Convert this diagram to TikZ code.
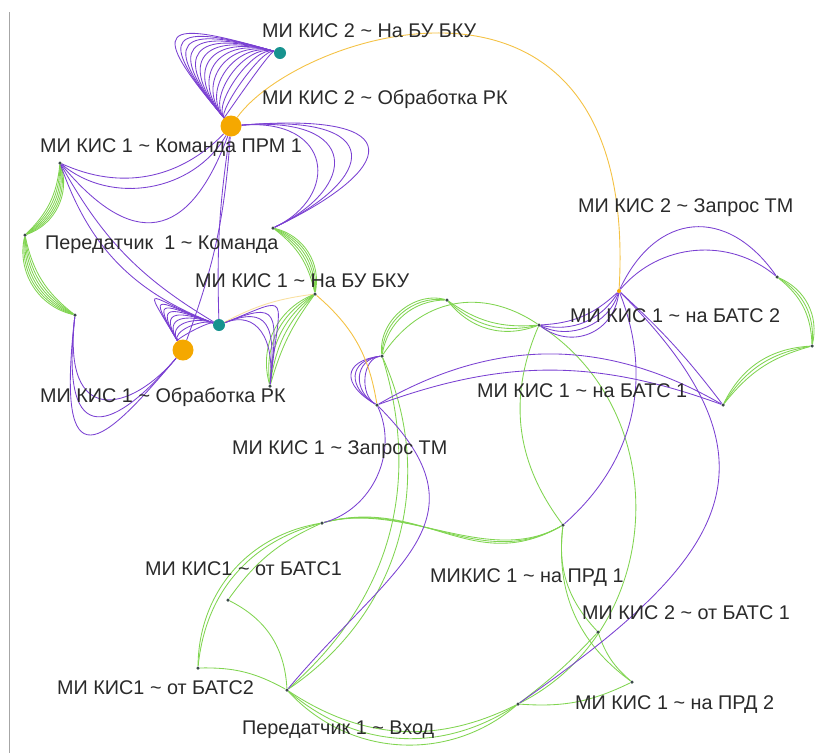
\documentclass[tikz,border=0pt]{standalone}
\usepackage{fontspec}
\setmainfont{Liberation Sans}
\definecolor{pur}{HTML}{7A40D2}
\definecolor{grn}{HTML}{80D450}
\definecolor{orl}{HTML}{F4C244}
\definecolor{orn}{HTML}{F5A800}
\definecolor{tea}{HTML}{17938F}
\definecolor{dotc}{HTML}{3A4A48}
\definecolor{txt}{HTML}{2A2A2A}
\pgfdeclarelayer{edges}
\pgfsetlayers{edges,main}
\begin{document}
\begin{tikzpicture}[x=1pt,y=1pt,
  pe/.style={draw=pur, line width=0.85pt},
  ge/.style={draw=grn, line width=0.85pt},
  oe/.style={draw=orl, line width=0.9pt},
  smalldot/.style={circle, fill=dotc, inner sep=0pt, minimum size=3.5pt},
  tealdot/.style={circle, fill=tea, inner sep=0pt, minimum size=12pt},
  hubdot/.style={circle, fill=orn, inner sep=0pt, minimum size=21pt},
  lbl/.style={anchor=mid west, inner sep=0pt, text=txt, font=\fontsize{19.8}{23}\selectfont}]

\path[use as bounding box] (0,0) rectangle (819,-753);
\draw[gray!70, line width=0.8pt] (9,-12) -- (9,-753);

% vertices
\node[tealdot] (A) at (280,-53) {};
\node[hubdot]  (B) at (231,-126) {};
\node[smalldot] (C) at (60,-163) {};
\node[smalldot] (D) at (25,-235) {};
\node[smalldot] (E) at (273,-228) {};
\node[smalldot] (F) at (75,-315) {};
\node[tealdot] (G) at (219,-325) {};
\node[hubdot]  (H) at (183,-350) {};
\node[smalldot] (I) at (315,-294) {};
\node[smalldot] (J) at (270,-386) {};
\node[smalldot] (K) at (382,-356) {};
\node[smalldot] (L) at (377,-405) {};
\node[smalldot] (M) at (447,-300) {};
\node[smalldot] (N) at (539,-325) {};
\node[circle, fill=orn, inner sep=0pt, minimum size=4pt] (O) at (619,-291) {};
\node[smalldot] (P) at (777,-277) {};
\node[smalldot] (Q) at (812,-346) {};
\node[smalldot] (R) at (723,-405) {};
\node[smalldot] (S) at (563,-525) {};
\node[smalldot] (T) at (598,-632) {};
\node[smalldot] (U) at (632,-682) {};
\node[smalldot] (V) at (518,-704) {};
\node[smalldot] (W) at (287,-690) {};
\node[smalldot] (X) at (228,-600) {};
\node[smalldot] (Y) at (198,-668) {};
\node[smalldot] (Z) at (322,-523) {};

\begin{pgfonlayer}{edges}
% green bundles
\foreach \b in {20,25,30,35,40,45} \draw[ge] (C) to[bend left=\b] (D);
\foreach \b in {20,25,30,35,40,45} \draw[ge] (D) to[bend right=\b] (F);
\foreach \b in {20,26,32,38,44} \draw[ge] (E) to[bend left=\b] (I);
\foreach \b in {10,18,26,34,42} \draw[ge] (I) to[bend right=\b] (J);
\foreach \b in {40,48,56} \draw[ge] (K) to[bend left=\b] (M);
\foreach \b in {20,28,36} \draw[ge] (M) to[bend right=\b] (N);
\draw[ge] (K) to[bend left=45,looseness=1.1] (N);
\draw[ge] (K) to[bend left=40] (W);
\draw[ge] (K) to[bend left=33] (W);
\foreach \l in {0.9,1,1.1} \draw[ge] (Z) to[out=15,in=-150,looseness=\l] (S);
\draw[ge] (Z) to[bend right=15] (X);
\draw[ge] (Z) to[bend right=40] (Y);
\draw[ge] (Z) to[bend right=35] (Y);
\draw[ge] (X) to[bend left=30] (W);
\draw[ge] (Y) to[bend left=15] (W);
\foreach \b in {30,37,44} \draw[ge] (W) to[bend right=\b] (V);
\draw[ge] (V) to[bend right=5] (T);
\draw[ge] (V) to[bend right=15] (U);
\draw[ge] (T) to[bend right=15] (U);
\draw[ge] (S) to[bend right=30] (U);
\draw[ge] (S) to[bend right=25] (T);
\draw[ge] (N) to[bend right=30] (S);
\draw[ge] (N) to[bend left=60,looseness=1.1] (V);
\foreach \b in {25,32,40} \draw[ge] (P) to[bend left=\b] (Q);
\foreach \b in {18,24,30} \draw[ge] (Q) to[bend right=\b] (R);

% purple fans and arcs
\foreach \k in {0.08,0.15,0.22,0.29,0.36,0.43,0.5,0.57,0.64,0.71,0.78,0.85,0.92,1.0}
  \draw[pe] (B) .. controls +({-85*\k},{100*\k}) and +({-120*\k},{35*\k}) .. (A);
\foreach \k in {0.15,0.25,0.35,0.45,0.55,0.65,0.75,0.85,1.0}
  \draw[pe] (H) .. controls +({-45*\k},{75*\k}) and +({-70*\k},{25*\k}) .. (G);
\foreach \k in {0.55,0.7,0.85,1}
  \draw[pe] (B) .. controls +({185*\k},{15*\k}) and +({122*\k},{58*\k}) .. (E);
\draw[pe] (C) to[bend right=35] (B);
\draw[pe] (C) to[bend right=50] (B);
\draw[pe] (C) to[bend right=60,looseness=1.7] (B);
\draw[pe] (C) to[bend right=15] (G);
\draw[pe] (C) to[bend right=25] (G);
\draw[pe] (B) to[bend left=8] (H);
\draw[pe] (B) to[bend right=5] (G);
\foreach \k in {0.5,0.65,0.8,1}
  \draw[pe] (G) .. controls +({75*\k},{30*\k}) and +({10*\k},{95*\k}) .. (J);
\foreach \k in {0.65,0.82,1}
  \draw[pe] (F) .. controls +({-20*\k},{-175*\k}) and +({-80*\k},{-95*\k}) .. (H);
\draw[pe] (O) to[bend left=60,looseness=1.4] (P);
\draw[pe] (O) to[bend left=45] (P);
\foreach \b in {20,35,50} \draw[pe] (N) to[bend right=\b] (O);
\draw[pe] (N) to[bend right=60,looseness=1.2] (O);
\draw[pe] (O) to[bend left=5] (R);
\draw[pe] (O) to[bend left=35] (S);
\draw[pe] (V) to[out=35,in=-45,looseness=1.5] (O);
\draw[pe] (L) to[bend left=30] (R);
\draw[pe] (L) to[bend left=20] (R);
\foreach \k in {0.5,0.7,0.85,1}
  \draw[pe] (K) .. controls +({-40*\k},{-5*\k}) and +({-35*\k},{20*\k}) .. (L);
\draw[pe] (L) to[out=-45,in=50,looseness=1.4] (W);
\draw[pe] (L) to[bend left=50] (Z);

% orange links
\draw[oe] (B) .. controls (300,-30) and (640,75) .. (O);
\draw[oe] (I) to[bend left=20] (L);
\draw[oe, opacity=0.5] (G) to[bend left=10] (I);
\end{pgfonlayer}

% labels
\node[lbl] (tA) at (262,-35)  {МИ КИС 2 \textasciitilde{} На БУ БКУ};
\node[lbl] (tB) at (262,-102) {МИ КИС 2 \textasciitilde{} Обработка РК};
\node[lbl] (tC) at (40,-150)  {МИ КИС 1 \textasciitilde{} Команда ПРМ 1};
\node[lbl] (tD) at (45,-247)  {Передатчик\ \ 1 \textasciitilde{} Команда};
\node[lbl] (tI) at (195,-285) {МИ КИС 1 \textasciitilde{} На БУ БКУ};
\node[lbl] (tH) at (40,-400)  {МИ КИС 1 \textasciitilde{} Обработка РК};
\node[lbl] (tL) at (232,-452) {МИ КИС 1 \textasciitilde{} Запрос ТМ};
\node[lbl] (tO) at (578,-210) {МИ КИС 2 \textasciitilde{} Запрос ТМ};
\node[lbl] (tN) at (570,-320) {МИ КИС 1 \textasciitilde{} на БАТС 2};
\node[lbl] (tR) at (477,-395) {МИ КИС 1 \textasciitilde{} на БАТС 1};
\node[lbl] (tS) at (430,-580) {МИКИС 1 \textasciitilde{} на ПРД 1};
\node[lbl] (tT) at (582,-617) {МИ КИС 2 \textasciitilde{} от БАТС 1};
\node[lbl] (tU) at (575,-707) {МИ КИС 1 \textasciitilde{} на ПРД 2};
\node[lbl] (tX) at (145,-573) {МИ КИС1 \textasciitilde{} от БАТС1};
\node[lbl] (tY) at (57,-692)  {МИ КИС1 \textasciitilde{} от БАТС2};
\node[lbl] (tW) at (242,-732) {Передатчик 1 \textasciitilde{} Вход};
\end{tikzpicture}
\end{document}
